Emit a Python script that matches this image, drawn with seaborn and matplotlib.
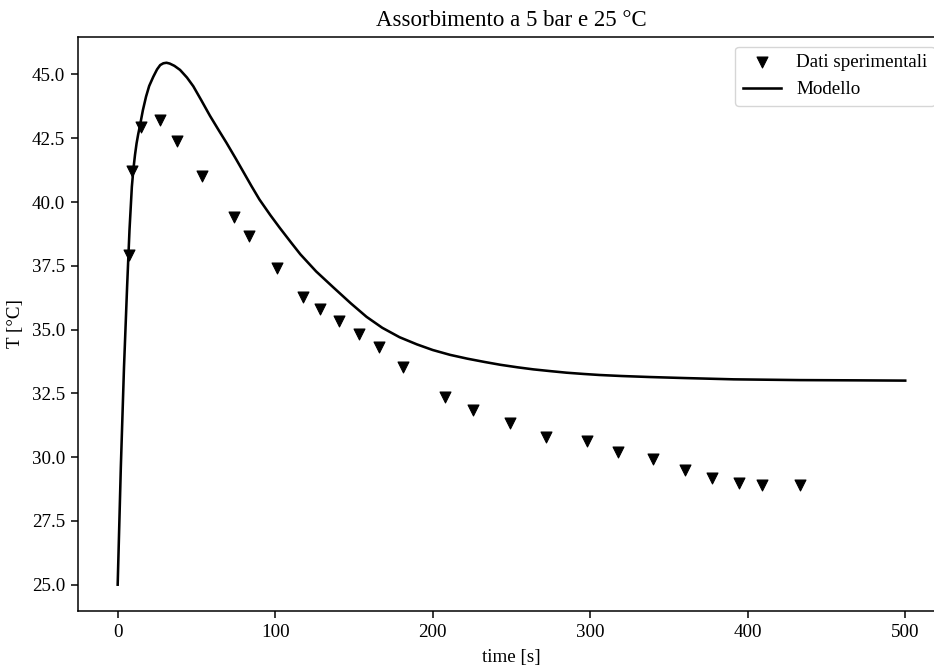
import matplotlib
matplotlib.use("Agg")
import matplotlib.pyplot as plt
import seaborn as sns

# Experimental data (time [s], T [°C])
exp_time = [7.2, 8.9, 14.8, 26.9, 37.7, 53.5, 74.0, 83.6, 101.0, 117.8, 128.4,
            140.5, 153.0, 166.1, 181.3, 208.0, 225.4, 249.1, 271.9, 298.2,
            317.8, 340.1, 360.4, 377.1, 394.5, 409.3, 433.2]
exp_temp = [37.92, 41.22, 42.93, 43.22, 42.39, 41.02, 39.42, 38.67, 37.41, 36.29,
            35.79, 35.33, 34.81, 34.33, 33.54, 32.34, 31.84, 31.32, 30.80, 30.63,
            30.22, 29.92, 29.49, 29.19, 29.00, 28.90, 28.90]

# Model curve
mod_time = [0, 2, 4, 6, 7.5, 9, 10, 11, 12, 13, 14, 16, 18, 20, 22.6, 25, 27,
            29, 31, 33, 36, 39.6, 44, 48, 53, 58.6, 64, 69, 75, 80, 85, 90, 97,
            103, 110, 116, 126, 137, 148, 158, 168, 179, 190, 200, 211, 222,
            233, 243, 254, 264, 275, 285, 296, 306, 320, 338, 360, 391, 433,
            470, 500]
mod_temp = [25.0, 29.6, 33.5, 36.7, 38.9, 40.6, 41.3, 41.85, 42.3, 42.65, 42.95,
            43.6, 44.13, 44.55, 44.91, 45.2, 45.37, 45.44, 45.46, 45.43, 45.34,
            45.18, 44.88, 44.54, 44.0, 43.38, 42.83, 42.33, 41.7, 41.16, 40.62,
            40.1, 39.48, 38.98, 38.42, 37.95, 37.28, 36.65, 36.03, 35.5, 35.07,
            34.7, 34.42, 34.2, 34.01, 33.86, 33.73, 33.62, 33.52, 33.44, 33.37,
            33.31, 33.26, 33.22, 33.18, 33.14, 33.1, 33.05, 33.02, 33.01, 33.0]

title = "Assorbimento a 5 bar e 25 °C"
xlabel = "time [s]"
ylabel = "T [°C]"
labels = ["Dati sperimentali", "Modello"]

k = 1.37
plt.rcParams.update({
    "font.family": ["Liberation Serif", "DejaVu Serif"],
    "font.size": 10 * k,
    "axes.linewidth": 0.8 * k,
    "xtick.major.size": 3.5 * k,
    "ytick.major.size": 3.5 * k,
    "xtick.major.width": 0.8 * k,
    "ytick.major.width": 0.8 * k,
    "xtick.major.pad": 3.5 * k,
    "ytick.major.pad": 3.5 * k,
    "axes.titlepad": 6 * k,
    "axes.labelpad": 4 * k,
    "legend.fontsize": 10 * k,
})

fig = plt.figure(figsize=(9.34, 6.66), dpi=100)
ax = fig.add_axes([78.3 / 934, (666 - 610.7) / 666, (944.6 - 78.3) / 934, (610.7 - 37) / 666])

sns.scatterplot(x=exp_time, y=exp_temp, marker="v", s=62, color="black",
                edgecolor="black", linewidth=0.8, ax=ax, label=labels[0], zorder=3)
sns.lineplot(x=mod_time, y=mod_temp, color="black", linewidth=1.35 * k,
             sort=False, estimator=None, ax=ax, label=labels[1])

ax.set_xlim(-25, 525)
ax.set_ylim(23.98, 46.47)
ax.set_xticks([0, 100, 200, 300, 400, 500])
ax.set_yticks([25.0, 27.5, 30.0, 32.5, 35.0, 37.5, 40.0, 42.5, 45.0])
ax.set_yticklabels([f"{v:.1f}" for v in [25.0, 27.5, 30.0, 32.5, 35.0, 37.5, 40.0, 42.5, 45.0]])
ax.set_title(title)
ax.set_xlabel(xlabel)
ax.set_ylabel(ylabel)
ax.legend(loc="upper right")

fig.savefig("out.png", dpi=100)
